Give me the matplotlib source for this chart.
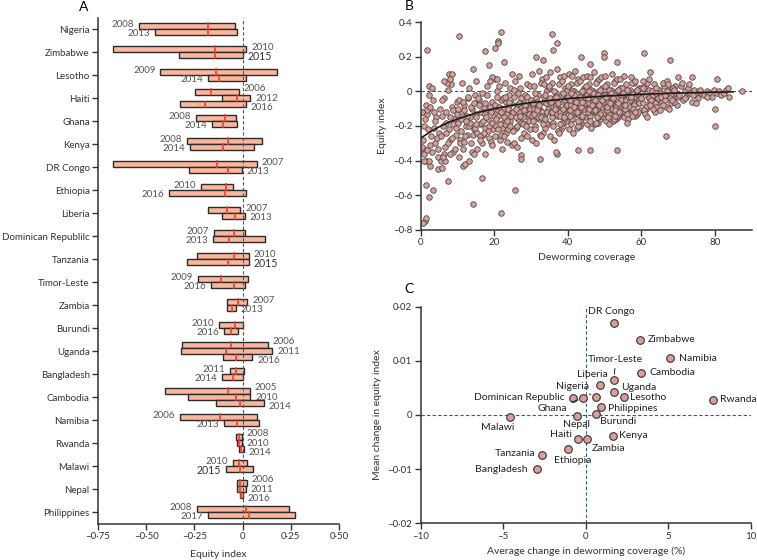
import matplotlib.pyplot as plt

plt.rcParams['font.family'] = ['Lato', 'DejaVu Sans']
plt.rcParams['font.size'] = 7
plt.rcParams['axes.edgecolor'] = '#333333'
plt.rcParams['xtick.color'] = '#333333'
plt.rcParams['ytick.color'] = '#333333'

# ---- Panel A: equity index per survey (low, median, high) ----
countries = ['Nigeria', 'Zimbabwe', 'Lesotho', 'Haiti', 'Ghana', 'Kenya', 'DR Congo',
             'Ethiopia', 'Liberia', 'Dominican Republilc', 'Tanzania', 'Timor-Leste',
             'Zambia', 'Burundi', 'Uganda', 'Bangladesh', 'Cambodia', 'Namibia',
             'Rwanda', 'Malawi', 'Nepal', 'Philippines']
years = [[2008, 2013], [2010, 2015], [2009, 2014], [2006, 2012, 2016], [2008, 2014],
         [2008, 2014], [2007, 2013], [2010, 2016], [2007, 2013], [2007, 2013],
         [2010, 2015], [2009, 2016], [2007, 2013], [2010, 2016], [2006, 2011, 2016],
         [2011, 2014], [2005, 2010, 2014], [2006, 2013], [2008, 2010, 2014],
         [2010, 2015], [2006, 2011, 2016], [2008, 2017]]
lows = [[-0.536, -0.455], [-0.671, -0.329], [-0.426, -0.179], [-0.247, -0.107, -0.324],
        [-0.241, -0.160], [-0.290, -0.274], [-0.674, -0.278], [-0.216, -0.383],
        [-0.179, -0.109], [-0.148, -0.154], [-0.238, -0.286], [-0.231, -0.162],
        [-0.083, -0.083], [-0.123, -0.097], [-0.312, -0.321, -0.100], [-0.066, -0.107],
        [-0.404, -0.281, -0.136], [-0.324, -0.097], [-0.035, -0.029, -0.019],
        [-0.050, -0.086], [-0.027, -0.027, -0.014], [-0.234, -0.179]]
meds = [[-0.181, -0.179], [-0.145, -0.141], [-0.140, -0.124], [-0.162, -0.028, -0.193],
        [-0.093, -0.102], [-0.074, -0.102], [-0.135, -0.076], [-0.086, -0.091],
        [-0.079, -0.041], [-0.047, -0.071], [-0.045, -0.076], [-0.110, -0.045],
        [-0.026, -0.055], [-0.041, -0.059], [-0.062, -0.088, -0.035], [-0.035, -0.050],
        [-0.074, -0.033, -0.014], [-0.117, -0.028], [-0.019, -0.017, -0.009],
        [-0.021, -0.016], [-0.012, -0.014, -0.007], [0.019, 0.033]]
highs = [[-0.040, -0.027], [0.019, 0.002], [0.176, 0.016], [-0.019, 0.040, 0.016],
         [-0.036, -0.027], [0.103, 0.059], [0.074, -0.004], [-0.048, 0.019],
         [-0.012, 0.012], [0.014, 0.117], [0.033, 0.033], [0.028, 0.010],
         [0.024, -0.035], [0.002, -0.022], [0.131, 0.154, 0.050], [0.007, 0.002],
         [0.038, 0.040, 0.110], [0.074, 0.084], [-0.004, -0.004, 0.007],
         [0.024, 0.052], [0.021, 0.017, 0.000], [0.241, 0.274]]
left_labelled = {'Nigeria', 'Lesotho', 'Ghana', 'Kenya', 'Ethiopia', 'Dominican Republilc',
                 'Timor-Leste', 'Burundi', 'Bangladesh', 'Namibia', 'Malawi', 'Philippines'}

# ---- Panel B: equity index vs deworming coverage ----
cov_b = [
    0.3, 0.8, 1.2, 1.5, 2.0, 2.4, 2.8, 3.1, 3.5, 3.9, 4.2, 4.6, 4.9, 0.5, 1.0, 1.8, 2.6, 3.3, 4.0, 4.4,
    0.9, 2.1, 3.7, 4.8, 1.4,
    5.2, 5.5, 5.9, 6.2, 6.6, 6.9, 7.3, 7.7, 8.0, 8.4, 8.7, 9.1, 9.5, 9.8, 5.4, 6.0, 6.8, 7.5, 8.2, 8.9,
    9.3, 9.9, 5.7, 7.0, 7.9, 8.6, 9.6, 6.4, 7.2, 8.8,
    10.1, 10.4, 10.8, 11.2, 11.5, 11.9, 12.2, 12.6, 12.9, 13.3, 13.6, 14.0, 14.4, 14.7, 10.3, 10.9, 11.4, 12.0, 12.5, 13.1,
    13.8, 14.2, 14.9, 10.6, 11.7, 12.8, 13.5, 14.5, 11.0, 12.3, 13.9, 14.8, 10.2, 11.8, 13.2,
    15.1, 15.4, 15.8, 16.1, 16.5, 16.8, 17.2, 17.5, 17.9, 18.2, 18.6, 18.9, 19.3, 19.6, 19.9, 15.3, 15.9, 16.4, 17.0, 17.6,
    18.1, 18.7, 19.2, 19.8, 15.6, 16.2, 16.9, 17.4, 18.4, 19.0, 19.5, 15.0, 16.6, 17.8, 18.8, 19.4, 16.0, 17.3,
    20.1, 20.4, 20.8, 21.1, 21.5, 21.8, 22.2, 22.5, 22.9, 23.2, 23.6, 23.9, 24.3, 24.6, 24.9, 20.3, 20.9, 21.4, 22.0, 22.6,
    23.1, 23.7, 24.2, 24.8, 20.6, 21.2, 21.9, 22.4, 23.0, 23.5, 24.0, 24.5, 20.2, 21.0, 21.7, 22.8, 23.4, 24.4, 22.1, 23.8,
    20.7, 21.6, 22.7, 24.1, 24.7,
    25.1, 25.5, 25.8, 26.2, 26.5, 26.9, 27.2, 27.6, 27.9, 28.3, 28.6, 29.0, 29.3, 29.7, 25.3, 25.9, 26.4, 27.0, 27.4, 28.0,
    28.5, 29.1, 29.6, 25.6, 26.1, 26.7, 27.3, 27.8, 28.4, 28.9, 29.4, 29.9, 25.2, 26.0, 26.8, 27.7, 28.8, 29.5, 26.3, 28.1,
    25.4, 27.1, 28.7, 29.8, 26.6,
    30.1, 30.4, 30.8, 31.1, 31.5, 31.8, 32.2, 32.5, 32.9, 33.2, 33.6, 33.9, 34.3, 34.6, 34.9, 30.3, 30.9, 31.4, 32.0, 32.6,
    33.1, 33.7, 34.2, 34.8, 30.6, 31.2, 31.9, 32.4, 33.0, 33.5, 34.0, 34.5, 30.2, 31.0, 31.7, 32.8, 33.4, 34.4, 31.3, 32.3,
    33.8, 30.7, 32.1, 33.3, 34.7, 31.6, 32.7, 34.1, 30.5, 33.9,
    35.1, 35.4, 35.8, 36.1, 36.5, 36.8, 37.2, 37.5, 37.9, 38.2, 38.6, 38.9, 39.3, 39.6, 39.9, 35.3, 35.9, 36.4, 37.0, 37.6,
    38.1, 38.7, 39.2, 39.8, 35.6, 36.2, 36.9, 37.4, 38.0, 38.5, 39.0, 39.5, 35.2, 36.0, 36.7, 37.8, 38.4, 39.4, 36.3, 37.3,
    38.8, 35.7, 37.1, 38.3, 39.7, 36.6, 37.7, 39.1, 35.5, 38.9, 36.9, 37.9, 39.9, 35.0, 38.6,
    40.1, 40.4, 40.8, 41.1, 41.5, 41.8, 42.2, 42.5, 42.9, 43.2, 43.6, 43.9, 44.3, 44.6, 44.9, 40.3, 40.9, 41.4, 42.0, 42.6,
    43.1, 43.7, 44.2, 44.8, 40.6, 41.2, 41.9, 42.4, 43.0, 43.5, 44.0, 44.5, 40.2, 41.0, 41.7, 42.8, 43.4, 44.4, 41.3, 42.3,
    43.8, 40.7, 42.1, 43.3, 44.7, 41.6, 42.7, 44.1, 40.5, 43.9, 41.8, 42.9, 44.6, 40.0, 43.6, 41.1, 42.4, 43.2, 44.0, 40.8,
    45.1, 45.4, 45.8, 46.1, 46.5, 46.8, 47.2, 47.5, 47.9, 48.2, 48.6, 48.9, 49.3, 49.6, 49.9, 45.3, 45.9, 46.4, 47.0, 47.6,
    48.1, 48.7, 49.2, 49.8, 45.6, 46.2, 46.9, 47.4, 48.0, 48.5, 49.0, 49.5, 45.2, 46.0, 46.7, 47.8, 48.4, 49.4, 46.3, 47.3,
    48.8, 45.7, 47.1, 48.3, 49.7, 46.6, 47.7, 49.1, 45.5, 48.9, 46.8, 47.9, 49.9, 45.0, 48.6, 46.1, 47.5, 48.2, 49.3, 45.8,
    50.1, 50.4, 50.8, 51.1, 51.5, 51.8, 52.2, 52.5, 52.9, 53.2, 53.6, 53.9, 54.3, 54.6, 54.9, 50.3, 50.9, 51.4, 52.0, 52.6,
    53.1, 53.7, 54.2, 54.8, 50.6, 51.2, 51.9, 52.4, 53.0, 53.5, 54.0, 54.5, 50.2, 51.0, 51.7, 52.8, 53.4, 54.4, 51.3, 52.3,
    53.8, 50.7, 52.1, 53.3, 54.7, 51.6, 52.7, 54.1, 50.5, 53.9, 51.8, 52.9, 54.6, 50.0, 53.6,
    55.1, 55.4, 55.8, 56.1, 56.5, 56.8, 57.2, 57.5, 57.9, 58.2, 58.6, 58.9, 59.3, 59.6, 59.9, 55.3, 55.9, 56.4, 57.0, 57.6,
    58.1, 58.7, 59.2, 59.8, 55.6, 56.2, 56.9, 57.4, 58.0, 58.5, 59.0, 59.5, 55.2, 56.0, 56.7, 57.8, 58.4, 59.4, 56.3, 57.3,
    58.8, 55.7, 57.1, 58.3, 59.7,
    60.2, 60.6, 61.0, 61.4, 61.8, 62.2, 62.6, 63.0, 63.4, 63.8, 64.2, 64.6, 60.4, 61.2, 62.0, 62.8, 63.6, 64.4, 60.8, 61.6,
    62.4, 63.2, 64.0, 64.8, 60.0, 61.1, 62.1, 63.1, 64.1, 61.5, 62.7, 63.9, 60.5, 62.3, 64.5,
    65.2, 65.7, 66.2, 66.7, 67.2, 67.7, 68.2, 68.7, 69.2, 69.7, 65.5, 66.0, 66.5, 67.0, 67.5, 68.0, 68.5, 69.0, 69.5, 65.9,
    66.9, 67.9, 68.9, 69.9, 65.0, 66.4, 67.4, 68.4,
    70.3, 70.8, 71.3, 71.8, 72.3, 72.8, 73.3, 73.8, 74.3, 74.8, 75.3, 75.8, 76.3, 77.0, 77.8, 78.5, 79.2, 79.8, 71.0, 72.0,
    73.0, 74.0, 75.0, 76.0, 78.0,
    80.5, 81.2, 81.8, 82.5, 83.0, 83.6, 84.0,
    1.6, 10.5, 17.4, 20.1, 20.9, 21.1, 21.7, 22.7, 35.8, 36.1, 37.2, 31.4, 33.2, 43.5, 46.1, 49.9, 49.9, 53.3, 60.8, 67.8,
    62.4, 70.1, 73.7, 80.5, 87.4, 80.0, 80.0, 66.7, 53.3, 46.1, 42.7, 32.4, 27.2, 27.2, 37.1, 36.8, 56.0, 25.7, 21.7, 16.7,
    14.3, 7.5, 1.4, 2.3, 3.3, 1.1, 1.4, 0.6, 4.8, 5.7, 11.6, 12.0, 13.2, 14.5, 17.5, 2.2, 1.0, 6.7, 6.1, 8.0,
    0.4, 1.6, 1.6, 0.4, 2.6, 2.2, 3.0, 2.3, 6.3, 7.6, 8.5, 7.9, 11.1, 14.1, 15.0, 18.6, 19.5, 20.8, 18.8,
]
equity_b = [
    -0.12, -0.33, -0.16, -0.40, -0.10, -0.43, -0.26, -0.35, -0.21, -0.30, -0.15, -0.38, -0.24, -0.28, -0.20, -0.13, -0.31, -0.05, -0.17, -0.27,
    -0.36, -0.22, -0.12, -0.33, -0.08,
    -0.10, -0.26, -0.14, -0.04, -0.32, -0.18, 0.01, -0.22, -0.28, -0.09, -0.35, -0.16, -0.25, -0.06, -0.40, -0.20, -0.12, -0.30, 0.04, -0.19,
    -0.33, -0.13, -0.05, -0.24, -0.15, -0.27, -0.21, -0.36, 0.05, -0.11,
    -0.18, -0.05, -0.28, -0.12, -0.33, -0.08, -0.20, -0.25, -0.04, -0.15, -0.30, -0.10, -0.22, -0.02, -0.38, -0.16, -0.06, -0.26, -0.14, -0.20,
    -0.09, -0.25, -0.13, -0.30, -0.11, -0.03, -0.18, -0.07, -0.23, -0.17, -0.35, -0.21, -0.10, -0.29, 0.02,
    -0.15, -0.24, -0.05, -0.19, -0.12, -0.30, -0.09, -0.21, -0.02, -0.16, -0.27, -0.11, -0.06, -0.22, -0.14, -0.33, -0.08, -0.18, -0.25, -0.13,
    0.03, -0.20, -0.29, -0.10, -0.04, -0.26, -0.17, -0.07, -0.23, -0.12, -0.31, -0.19, -0.01, -0.15, -0.09, -0.18, -0.28, -0.24,
    -0.08, -0.20, 0.00, -0.14, -0.28, -0.05, -0.18, -0.10, 0.05, -0.24, -0.13, -0.02, -0.17, -0.07, -0.31, -0.26, -0.11, 0.03, -0.21, -0.15,
    -0.06, -0.22, 0.02, -0.12, -0.16, -0.09, -0.25, -0.04, -0.19, -0.29, -0.08, -0.14, 0.07, -0.22, -0.12, -0.03, -0.17, -0.20, -0.33, -0.10,
    -0.03, -0.19, -0.26, -0.06, 0.10,
    -0.12, -0.03, -0.21, -0.08, -0.16, 0.02, -0.27, -0.11, -0.05, -0.19, -0.13, 0.04, -0.09, -0.22, -0.30, -0.15, -0.01, -0.07, -0.18, -0.24,
    -0.02, -0.14, -0.10, 0.06, -0.20, -0.12, -0.04, -0.15, -0.08, -0.26, -0.17, -0.06, -0.23, -0.10, 0.09, -0.19, -0.03, -0.13, -0.32, -0.11,
    0.01, -0.14, -0.20, 0.03, -0.07,
    -0.05, -0.14, 0.03, -0.20, -0.09, -0.02, -0.16, -0.11, 0.07, -0.24, -0.06, -0.13, 0.01, -0.19, -0.08, -0.28, -0.10, -0.04, -0.15, 0.05,
    -0.12, -0.21, -0.07, 0.02, -0.17, -0.01, -0.09, -0.25, -0.14, -0.03, -0.18, -0.10, 0.10, -0.22, -0.06, -0.15, 0.04, -0.12, -0.30, -0.08,
    -0.02, -0.13, 0.12, -0.19, -0.05, -0.11, -0.26, 0.08, -0.07, -0.16,
    -0.04, -0.12, 0.05, -0.18, -0.08, -0.01, -0.14, -0.10, 0.08, -0.22, -0.06, -0.12, 0.02, -0.17, -0.07, -0.26, -0.09, -0.03, -0.13, 0.04,
    -0.11, -0.20, -0.05, 0.01, -0.15, 0.00, -0.08, -0.23, -0.12, -0.02, -0.16, -0.09, 0.11, -0.20, -0.05, -0.14, 0.06, -0.11, -0.28, -0.07,
    -0.01, -0.12, 0.13, -0.18, -0.04, -0.10, -0.24, 0.09, -0.06, -0.15, -0.03, -0.19, -0.08, 0.03, -0.10,
    -0.03, -0.11, 0.04, -0.16, -0.07, 0.00, -0.13, -0.09, 0.07, -0.20, -0.05, -0.10, 0.02, -0.15, -0.06, -0.22, -0.08, -0.02, -0.12, 0.05,
    -0.10, -0.18, -0.04, 0.01, -0.14, 0.00, -0.07, -0.21, -0.11, -0.01, -0.15, -0.08, 0.10, -0.19, -0.04, -0.13, 0.06, -0.10, -0.24, -0.06,
    0.00, -0.11, 0.12, -0.17, -0.03, -0.09, -0.20, 0.08, -0.05, -0.14, -0.02, -0.17, -0.07, 0.03, -0.09, 0.09, -0.12, -0.03, -0.06, -0.01,
    -0.02, -0.10, 0.04, -0.14, -0.06, 0.00, -0.12, -0.08, 0.06, -0.18, -0.04, -0.09, 0.02, -0.13, -0.05, -0.19, -0.07, -0.01, -0.11, 0.05,
    -0.09, -0.16, -0.03, 0.01, -0.12, 0.01, -0.06, -0.19, -0.10, 0.00, -0.14, -0.07, 0.09, -0.17, -0.03, -0.12, 0.07, -0.09, -0.21, -0.05,
    0.01, -0.10, 0.11, -0.15, -0.02, -0.08, -0.18, 0.08, -0.04, -0.13, -0.01, -0.15, -0.06, 0.03, -0.08, 0.08, -0.11, -0.02, -0.05, 0.00,
    -0.02, -0.09, 0.04, -0.13, -0.05, 0.01, -0.11, -0.07, 0.06, -0.16, -0.03, -0.08, 0.02, -0.12, -0.04, -0.17, -0.06, -0.01, -0.10, 0.05,
    -0.08, -0.15, -0.02, 0.02, -0.11, 0.01, -0.05, -0.17, -0.09, 0.00, -0.13, -0.06, 0.09, -0.15, -0.03, -0.11, 0.07, -0.08, -0.19, -0.04,
    0.01, -0.09, 0.10, -0.14, -0.02, -0.07, -0.16, 0.07, -0.03, -0.12, -0.01, -0.14, -0.05, 0.03, -0.07,
    -0.01, -0.08, 0.04, -0.11, -0.04, 0.01, -0.10, -0.06, 0.05, -0.14, -0.03, -0.07, 0.02, -0.11, -0.04, -0.15, -0.05, 0.00, -0.09, 0.05,
    -0.07, -0.13, -0.02, 0.02, -0.10, 0.01, -0.05, -0.14, -0.08, 0.00, -0.12, -0.05, 0.09, -0.13, -0.03, -0.10, 0.06, -0.07, -0.16, -0.03,
    0.01, -0.08, 0.08, -0.12, -0.02,
    -0.01, -0.07, 0.03, -0.10, -0.03, 0.01, -0.08, -0.05, 0.04, -0.12, -0.02, -0.06, 0.02, -0.09, -0.04, 0.00, -0.07, -0.03, -0.11, 0.05,
    -0.06, -0.02, -0.09, 0.01, -0.04, -0.13, 0.07, -0.10, 0.02, -0.15, -0.05, -0.01, 0.06, -0.08, -0.04,
    -0.01, -0.06, 0.03, -0.09, -0.02, 0.01, -0.07, -0.04, 0.03, -0.08, -0.03, 0.05, -0.05, 0.00, -0.10, -0.02, 0.02, -0.06, -0.01, -0.08,
    0.06, -0.04, 0.01, -0.03, -0.11, -0.02, 0.04, -0.05,
    -0.02, 0.03, -0.05, 0.00, -0.03, 0.02, -0.01, -0.06, 0.01, -0.02, -0.04, 0.00, -0.01, -0.02, 0.00, -0.01, -0.03, 0.01, 0.05, -0.04,
    0.04, -0.02, -0.07, 0.01, -0.03,
    -0.01, 0.00, -0.02, -0.01, 0.01, 0.02, -0.03,
    0.24, 0.32, 0.23, 0.25, 0.29, 0.28, 0.34, 0.17, 0.33, 0.24, 0.28, 0.20, 0.18, 0.20, 0.16, 0.22, 0.20, 0.17, 0.22, 0.18,
    0.11, 0.08, 0.08, 0.07, 0.00, -0.10, -0.20, -0.26, -0.34, -0.34, -0.34, -0.39, -0.37, -0.39, -0.36, -0.35, -0.18, -0.57, -0.70, -0.50,
    -0.65, -0.52, -0.54, -0.61, -0.57, -0.75, -0.73, -0.76, -0.45, -0.44, -0.43, -0.42, -0.40, -0.36, -0.36, -0.40, -0.40, -0.40, -0.38, -0.36,
    -0.32, -0.34, -0.11, -0.12, -0.09, 0.03, 0.02, -0.02, 0.06, 0.10, 0.10, 0.07, 0.05, 0.13, 0.06, 0.15, 0.08, 0.07, 0.06,
]
trend_x = [0, 2.5, 5, 7.5, 10, 15, 20, 25, 30, 40, 50, 60, 70, 80, 85]
trend_y = [-0.27, -0.235, -0.205, -0.18, -0.16, -0.125, -0.10, -0.08, -0.065, -0.042, -0.027, -0.017, -0.010, -0.005, -0.003]

# ---- Panel C: mean change per country ----
names_c = ['DR Congo', 'Zimbabwe', 'Namibia', 'Cambodia', 'Timor-Leste', 'Liberia', 'Uganda',
           'Nigeria', 'Lesotho', 'Dominican Republic', 'Ghana', 'Rwanda', 'Philippines',
           'Burundi', 'Nepal', 'Malawi', 'Kenya', 'Haiti', 'Zambia', 'Ethiopia', 'Tanzania',
           'Bangladesh']
cov_change = [1.72, 3.31, 5.09, 3.35, 1.70, 0.89, 1.74, 0.61, 2.30, -0.77, -0.14, 7.74, 0.93,
              0.61, -0.51, -4.61, 1.68, -0.46, 0.08, -1.05, -2.65, -2.97]
eq_change = [0.0170, 0.0139, 0.0105, 0.0078, 0.0065, 0.0055, 0.0042, 0.0033, 0.0033, 0.0032,
             0.0031, 0.0028, 0.0014, 0.0002, -0.0001, -0.0004, -0.0038, -0.0044, -0.0045,
             -0.0062, -0.0073, -0.0100]
# label offsets in pixels (dx, dy), alignment, leader line
label_pos = {
    'DR Congo': (-3, 11, 'center', False), 'Zimbabwe': (7, 0, 'left', False),
    'Namibia': (9, 0, 'left', False), 'Cambodia': (9, 0, 'left', False),
    'Timor-Leste': (2, 20, 'center', True), 'Liberia': (-8, 11, 'center', False),
    'Uganda': (7, 5, 'left', False), 'Nigeria': (-23, 11, 'center', True),
    'Lesotho': (6, 0, 'left', False), 'Dominican Republic': (-8, 0, 'right', False),
    'Ghana': (-31, -10, 'center', True), 'Rwanda': (7, 0, 'left', False),
    'Philippines': (7, -1, 'left', False), 'Burundi': (22, -8, 'center', False),
    'Nepal': (-1, -9, 'center', False), 'Malawi': (-12, -10, 'center', False),
    'Kenya': (6, 0, 'left', False), 'Haiti': (-17, 4, 'center', False),
    'Zambia': (21, -9, 'center', False), 'Ethiopia': (4, -12, 'center', False),
    'Tanzania': (-7, 1, 'right', False), 'Bangladesh': (-9, 0, 'right', False),
}

bar_fc = '#fbb79e'
red = '#e8412c'
dot_fc = '#dc9e98'
dash_col = '#2e5f7f'
dark = '#2b2b2b'


def fmt(v, nd):
    if abs(v) < 1e-12:
        return '0'
    s = f'{abs(v):.{nd}f}'.replace('.', '\u00b7')
    return ('\u2013' if v < 0 else '') + s


def style(ax):
    for side in ('top', 'right'):
        ax.spines[side].set_visible(False)
    for side in ('left', 'bottom'):
        ax.spines[side].set_linewidth(1.1)
    ax.tick_params(direction='out', length=4, width=1, labelsize=7, pad=2)


fig = plt.figure(figsize=(7.57, 5.6), dpi=100)

# Panel A
axA = fig.add_axes([0.1295, 0.0643, 0.3183, 0.9036])
bh = 0.27
label_step = 9.5  # vertical spacing of year labels, pixels
for i, c in enumerate(countries):
    n = len(years[i])
    for k in range(n):
        y = i + (k - (n - 1) / 2) * bh
        lo, md, hi = lows[i][k], meds[i][k], highs[i][k]
        axA.barh(y, hi - lo, left=lo, height=bh, color=bar_fc, edgecolor=dark, linewidth=1.0, zorder=2)
        axA.plot([md, md], [y - bh / 2 + 0.02, y + bh / 2 - 0.02], color=red, lw=1.2, zorder=3)
        big = years[i][k] == 2015
        fs = 7.6 if big else 7
        col = '#333333' if big else '#555555'
        # spread labels a little more than the bars so they do not collide
        dy = -(k - (n - 1) / 2) * label_step - (y - i) * (-23)
        if c in left_labelled:
            axA.annotate(str(years[i][k]), (lo, y), xytext=(-5, dy), textcoords='offset pixels',
                         ha='right', va='center', fontsize=fs, color=col)
        else:
            axA.annotate(str(years[i][k]), (hi, y), xytext=(5, dy), textcoords='offset pixels',
                         ha='left', va='center', fontsize=fs, color=col)
axA.axvline(0, color=dash_col, lw=0.8, ls=(0, (3, 2)), zorder=4)
axA.set_xlim(-0.75, 0.5)
axA.set_ylim(21.52, -0.48)
axA.set_yticks(range(len(countries)))
axA.set_yticklabels(countries, fontsize=7.5, color='#333333')
xt = [-0.75, -0.5, -0.25, 0, 0.25, 0.5]
axA.set_xticks(xt)
axA.set_xticklabels([fmt(v, 2) for v in xt])
axA.set_xlabel('Equity index', fontsize=7.5, color='#333333', labelpad=6)
style(axA)

# Panel B
axB = fig.add_axes([0.5558, 0.5893, 0.437, 0.3714])
axB.axhline(0, color=dash_col, lw=0.8, ls=(0, (3, 2)), zorder=1)
axB.scatter(cov_b, equity_b, s=16, color=dot_fc, edgecolor='#4a4a4a', linewidth=0.6, zorder=2)
axB.plot(trend_x, trend_y, color='#1a1a1a', lw=1.2, zorder=3)
axB.set_xlim(0, 90)
axB.set_ylim(-0.8, 0.4)
yt = [0.4, 0.2, 0, -0.2, -0.4, -0.6, -0.8]
axB.set_yticks(yt)
axB.set_yticklabels([fmt(v, 1) for v in yt])
axB.set_xticks([0, 20, 40, 60, 80])
axB.set_xlabel('Deworming coverage', fontsize=7.5, color='#333333', labelpad=4)
axB.set_ylabel('Equity index', fontsize=7.5, color='#333333', labelpad=4)
style(axB)

# Panel C
axC = fig.add_axes([0.5558, 0.0655, 0.4359, 0.3869])
axC.axhline(0, color=dash_col, lw=0.8, ls=(0, (3, 2)), zorder=1)
axC.axvline(0, color=dash_col, lw=0.8, ls=(0, (3, 2)), zorder=1)
axC.scatter(cov_change, eq_change, s=30, color=dot_fc, edgecolor='#333333', linewidth=0.8, zorder=3)
for name, xv, yv in zip(names_c, cov_change, eq_change):
    dx, dy, ha, leader = label_pos[name]
    arrow = dict(arrowstyle='-', lw=0.7, color='#222222', shrinkA=1, shrinkB=4) if leader else None
    axC.annotate(name, (xv, yv), xytext=(dx, dy), textcoords='offset pixels', ha=ha,
                 va='center', fontsize=7.5, color='#222222', arrowprops=arrow, zorder=4)
axC.set_xlim(-10, 10)
axC.set_ylim(-0.02, 0.02)
ytc = [0.02, 0.01, 0, -0.01, -0.02]
axC.set_yticks(ytc)
axC.set_yticklabels([fmt(v, 2) for v in ytc])
xtc = [-10, -5, 0, 5, 10]
axC.set_xticks(xtc)
axC.set_xticklabels([fmt(v, 0) for v in xtc])
axC.set_xlabel('Average change in deworming coverage (%)', fontsize=7.5, color='#333333', labelpad=4)
axC.set_ylabel('Mean change in equity index', fontsize=7.5, color='#333333', labelpad=4)
style(axC)

fig.text(0.111, 0.988, 'A', ha='center', va='center', fontsize=10)
fig.text(0.540, 0.989, 'B', ha='center', va='center', fontsize=10)
fig.text(0.540, 0.484, 'C', ha='center', va='center', fontsize=10)

fig.savefig('out.png', dpi=100)
